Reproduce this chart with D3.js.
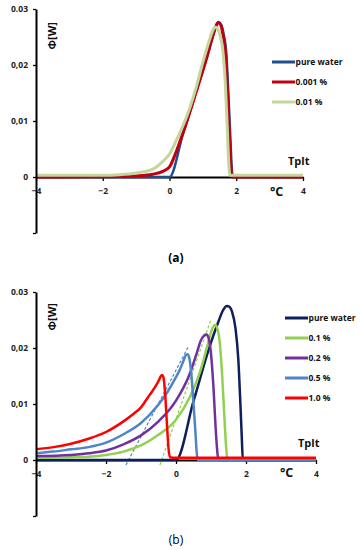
<!DOCTYPE html>
<html lang="en">
<head>
  <meta charset="UTF-8">
  <title>Heat flow curves</title>
  <style>
    body { margin: 0; background: #fff; }
    text { font-family: "Open Sans", sans-serif; }
  </style>
</head>
<body>
  <script src="https://d3js.org/d3.v7.min.js"></script>
  <div id="chart"></div>

  <script>
    // ---- data (T in degC, Phi in W) ----
    const xTickValues = [-4, -2, 0, 2, 4]
    const yTickValues = [-0.01, 0, 0.01, 0.02, 0.03]
    const yTickLabels = ['', '0', '0,01', '0,02', '0.03']

    // panel (a)
    const namesA = ['pure water', '0.001 %', '0.01 %']
    const waterA = [[-4,0],[0,0],[0.4,0.0076],[0.8,0.0153],[1.1,0.021],[1.3,0.0252],[1.4,0.0272],[1.47,0.0277],
      [1.55,0.0272],[1.62,0.0256],[1.7,0.0222],[1.76,0.0155],[1.82,0.0075],[1.87,0.0012],[1.9,0],[4,0]]
    const ppm10A = [[-4,0],[-1.5,0.0001],[-1,0.0002],[-0.5,0.0005],[-0.2,0.001],[0,0.0018],[0.2,0.0045],[0.4,0.0078],
      [0.8,0.0152],[1.1,0.021],[1.3,0.0252],[1.4,0.027],[1.46,0.0276],[1.53,0.0272],[1.6,0.0255],[1.68,0.022],
      [1.74,0.015],[1.8,0.007],[1.85,0.001],[1.88,0],[4,0]]
    const ppm100A = [[-4,0.0003],[-2,0.0003],[-1.5,0.0004],[-1,0.0007],[-0.5,0.0014],[-0.2,0.0028],[0,0.0041],
      [0.2,0.0065],[0.4,0.0091],[0.6,0.0122],[0.8,0.016],[1.0,0.0205],[1.2,0.0245],[1.3,0.0262],[1.37,0.0268],
      [1.45,0.0264],[1.52,0.0252],[1.6,0.0225],[1.67,0.017],[1.73,0.009],[1.78,0.002],[1.81,0.0003],[4,0.0003]]

    // panel (b)
    const namesB = ['pure water', '0.1 %', '0.2 %', '0.5 %', '1.0 %']
    const waterB = [[-4,0],[0,0],[0.5,0.0105],[1.0,0.021],[1.2,0.0245],[1.35,0.0268],[1.45,0.0275],[1.52,0.0274],
      [1.6,0.0265],[1.7,0.0235],[1.78,0.018],[1.84,0.01],[1.88,0.004],[1.91,0],[4,0]]
    const pct01B = [[-4,0.0004],[-3,0.0005],[-2.5,0.0006],[-2,0.0009],[-1.5,0.0015],[-1,0.0026],[-0.5,0.0045],
      [0,0.0072],[0.4,0.0113],[0.7,0.016],[0.9,0.0205],[1.0,0.0228],[1.07,0.0239],[1.12,0.0241],[1.18,0.0235],
      [1.25,0.021],[1.32,0.015],[1.38,0.008],[1.43,0.0025],[1.47,0],[4,0]]
    const pct02B = [[-4,0.0007],[-3,0.0009],[-2.5,0.0012],[-2,0.0017],[-1.5,0.0028],[-1,0.0044],[-0.5,0.0069],
      [0,0.0106],[0.4,0.0155],[0.6,0.0192],[0.7,0.0212],[0.8,0.0222],[0.87,0.0224],[0.93,0.0218],[1.0,0.019],
      [1.07,0.013],[1.13,0.006],[1.18,0.0015],[1.21,0],[4,0]]
    const pct05B = [[-4,0.0012],[-3.5,0.0015],[-3,0.0019],[-2.5,0.0023],[-2,0.0031],[-1.5,0.0046],[-1,0.0066],
      [-0.5,0.0099],[-0.25,0.0121],[0,0.0148],[0.1,0.016],[0.2,0.0175],[0.28,0.0187],[0.33,0.0189],[0.38,0.0182],
      [0.45,0.0145],[0.5,0.010],[0.55,0.0055],[0.59,0.0015],[0.62,0],[4,0]]
    const pct10B = [[-4,0.0019],[-3.5,0.0023],[-3,0.0029],[-2.5,0.0038],[-2,0.005],[-1.5,0.0069],[-1.2,0.0083],
      [-1,0.0094],[-0.8,0.0112],[-0.6,0.013],[-0.5,0.0141],[-0.44,0.0149],[-0.4,0.0152],[-0.36,0.0148],
      [-0.31,0.0118],[-0.26,0.0065],[-0.21,0.0018],[-0.17,0.0005],[0,0.0004],[4,0.0004]]
    // tangent (dashed) lines
    const tangent05 = [[-1.43,-0.0009],[0.36,0.0203]]
    const tangent01 = [[-0.46,-0.0009],[1.0,0.0251]]

    const svg = d3.select('#chart')
      .append('svg')
      .attr('width', 361)
      .attr('height', 550)

    function panel(opt) {
      const g = svg.append('g')
      const x = d3.scaleLinear().domain([-4, 4]).range(opt.xr)
      const y = d3.scaleLinear().domain([-0.01, 0.03]).range(opt.yr)

      const xa = g.append('g')
        .attr('transform', `translate(0, ${y(0)})`)
        .call(d3.axisBottom(x).tickValues(xTickValues).tickSize(4).tickSizeOuter(0).tickPadding(7)
          .tickFormat(d3.format('d')))
      xa.select('.domain').attr('stroke-width', 2)
      xa.selectAll('.tick line').attr('stroke-width', 1.3)
      xa.selectAll('text').attr('font-size', 8.5).attr('font-weight', 'bold').attr('fill', '#222')

      const line = d3.line().x(d => x(d[0])).y(d => y(d[1])).curve(d3.curveMonotoneX)

      opt.dashes.forEach(s => {
        g.append('path').datum(s.data)
          .attr('d', d3.line().x(d => x(d[0])).y(d => y(d[1])))
          .attr('fill', 'none').attr('stroke', s.color).attr('stroke-width', 1.2)
          .attr('stroke-dasharray', '3,2')
      })

      opt.series.forEach(s => {
        g.append('path').datum(s.data)
          .attr('d', line)
          .attr('fill', 'none').attr('stroke', s.color).attr('stroke-width', s.w)
          .attr('stroke-linejoin', 'round')
      })

      const ya = g.append('g')
        .attr('transform', `translate(${x(-4)}, 0)`)
        .call(d3.axisLeft(y).tickValues(yTickValues).tickSize(3).tickSizeOuter(0).tickPadding(5)
          .tickFormat((d, i) => yTickLabels[i]))
      ya.select('.domain').attr('stroke-width', 2)
      ya.selectAll('.tick line').attr('stroke-width', 1.3)
      ya.selectAll('text').attr('font-size', 8.5).attr('font-weight', 'bold').attr('fill', '#222')

      // axis titles
      g.append('text')
        .attr('transform', `translate(${x(-4) + 20}, ${y(0.03) + opt.phiDy}) rotate(-90)`)
        .attr('text-anchor', 'end')
        .attr('font-size', 11).attr('font-weight', 'bold').attr('fill', '#111')
        .text('Φ[W]')
      g.append('text')
        .attr('x', opt.tplt[0]).attr('y', opt.tplt[1])
        .attr('font-size', 11).attr('font-weight', 'bold').attr('fill', '#111')
        .text('Tplt')
      g.append('text')
        .attr('x', opt.degc[0]).attr('y', opt.degc[1])
        .attr('font-size', 12.5).attr('font-weight', 'bold').attr('fill', '#111')
        .text('°C')

      // legend
      const lg = g.append('g').attr('transform', `translate(${opt.legend[0]}, ${opt.legend[1]})`)
      const items = lg.selectAll('g').data(opt.series).join('g')
        .attr('transform', (d, i) => `translate(0, ${i * opt.legend[2]})`)
      items.append('line').attr('x1', 0).attr('x2', 23)
        .attr('stroke', d => d.color).attr('stroke-width', 3)
      items.append('text').attr('x', 23.5).attr('dy', '0.35em')
        .attr('font-size', 8.5).attr('font-weight', 'bold').attr('fill', '#111')
        .text(d => d.name)

      svg.append('text')
        .attr('x', 176).attr('y', opt.caption)
        .attr('text-anchor', 'middle')
        .attr('font-family', '"Liberation Serif", serif')
        .attr('font-size', 12).attr('font-weight', opt.capBold ? 'bold' : 'normal')
        .text(opt.capText)
    }

    const colA = ['#1f4e8f', '#c00010', '#c3d69b']
    const seriesA = [waterA, ppm10A, ppm100A].map((d, i) => ({ name: namesA[i], data: d, color: colA[i], w: i === 0 ? 2.5 : 3 }))

    panel({
      xr: [36, 303], yr: [233, 9],
      series: seriesA, dashes: [],
      phiDy: 13, tplt: [288, 165], degc: [270, 196],
      legend: [272, 62, 20],
      caption: 262, capText: '(a)', capBold: true
    })

    const colB = ['#0f1f5e', '#92d050', '#7030a0', '#4f85c7', '#ff0000']
    const seriesB = [waterB, pct01B, pct02B, pct05B, pct10B].map((d, i) => ({ name: namesB[i], data: d, color: colB[i], w: 2.5 }))

    panel({
      xr: [36, 316], yr: [516, 292],
      series: seriesB,
      dashes: [{ data: tangent05, color: '#4f85c7' }, { data: tangent01, color: '#92d050' }],
      phiDy: 11, tplt: [298, 447], degc: [280, 477],
      legend: [285, 318, 20],
      caption: 544, capText: '(b)', capBold: false
    })
  </script>
</body>
</html>
